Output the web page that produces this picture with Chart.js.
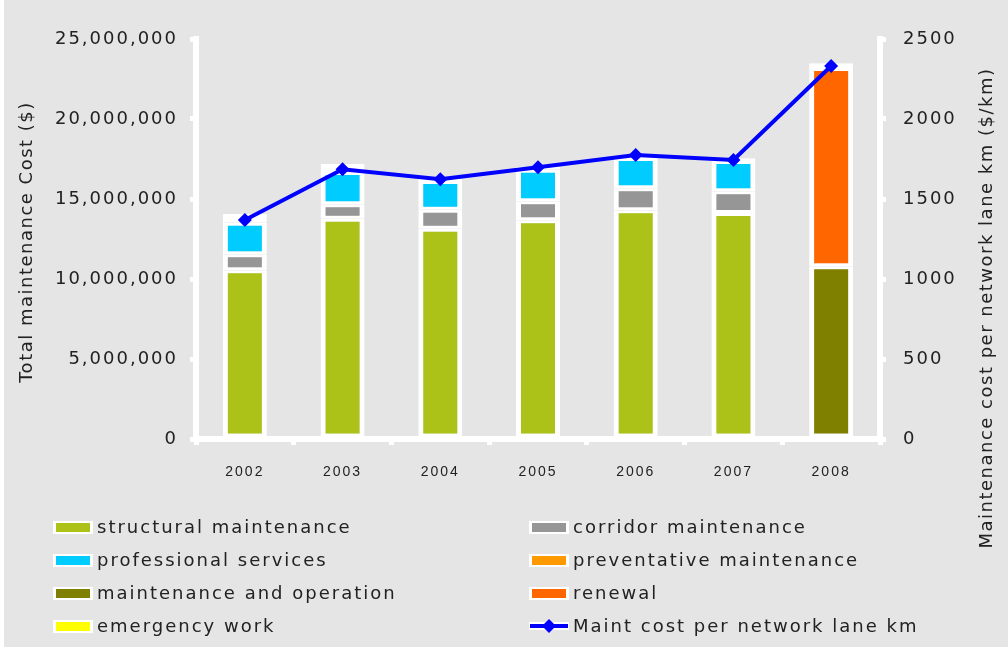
<!DOCTYPE html>
<html><head><meta charset="utf-8">
<script src="https://cdn.jsdelivr.net/npm/chart.js@4.4.1/dist/chart.umd.min.js"></script>
<style>html,body{margin:0;padding:0;background:#fff;}canvas{display:block;}</style>
</head><body>
<canvas id="c" width="1008" height="652"></canvas>
<script>
// ---- data ----
const categories = ['2002','2003','2004','2005','2006','2007','2008'];
const structuralMaintenance = [10540000, 13770000, 13140000, 13670000, 14290000, 14125000, null];
const corridorMaintenance   = [1000000, 900000, 1190000, 1190000, 1380000, 1360000, null];
const professionalServices  = [1980000, 2020000, 1800000, 1970000, 1890000, 1890000, null];
const preventativeMaintenance = [null, null, null, null, null, null, null];
const maintenanceAndOperation = [null, null, null, null, null, null, 10790000];
const renewal               = [null, null, null, null, null, null, 12400000];
const emergencyWork         = [540000, 500000, 130000, 170000, 80000, 170000, 290000];
const costPerLaneKm         = [1369, 1686, 1623, 1698, 1775, 1744, 2331];
const leftTicks = [0, 5000000, 10000000, 15000000, 20000000, 25000000];
const rightTicks = [0, 500, 1000, 1500, 2000, 2500];
const leftTitle = 'Total maintenance Cost ($)';
const rightTitle = 'Maintenance cost per network lane km ($/km)';

const FONT = 'DejaVu Sans';
const SP = '2px';
const TITLE_SP = '1.5px';
const TXT = '#222222';

const barBorder = {top:3, bottom:3, left:5, right:5};
function bar(label, data, color, bw) {
  return { label, data, backgroundColor: color, borderColor: '#ffffff',
    borderWidth: bw || barBorder, borderSkipped: false, inflateAmount: 0, stack: 's', yAxisID: 'y', order: 1,
    barThickness: 44 };
}

const bgPlugin = {
  id: 'bg',
  beforeUpdate(chart){ chart.ctx.letterSpacing = SP; },
  beforeDraw(chart){
    const ctx = chart.ctx;
    ctx.save();
    ctx.fillStyle = '#ffffff'; ctx.fillRect(0,0,chart.width,chart.height);
    ctx.fillStyle = '#E5E5E5'; ctx.fillRect(4,0,chart.width-4,chart.height-5);
    ctx.restore();
    ctx.letterSpacing = SP;
  }
};

const legendPlugin = {
  id: 'customLegend',
  afterDraw(chart){
    const ctx = chart.ctx;
    ctx.save();
    ctx.letterSpacing = SP;
    ctx.font = '18px "' + FONT + '"';
    ctx.textBaseline = 'middle';
    ctx.textAlign = 'left';
    const colX = [53, 529];
    const rowY = [527, 560, 593, 626];
    chart.data.datasets.forEach((ds, i) => {
      const x = colX[i % 2], y = rowY[Math.floor(i / 2)];
      if (ds.type === 'line') {
        ctx.strokeStyle = '#ffffff'; ctx.lineWidth = 8;
        ctx.beginPath(); ctx.moveTo(x, y); ctx.lineTo(x + 40, y); ctx.stroke();
        ctx.strokeStyle = ds.borderColor; ctx.lineWidth = 4;
        ctx.beginPath(); ctx.moveTo(x + 1, y); ctx.lineTo(x + 39, y); ctx.stroke();
        ctx.fillStyle = ds.borderColor;
        ctx.beginPath(); ctx.moveTo(x + 20, y - 7); ctx.lineTo(x + 27, y); ctx.lineTo(x + 20, y + 7); ctx.lineTo(x + 13, y); ctx.closePath(); ctx.fill();
      } else {
        ctx.fillStyle = '#ffffff'; ctx.fillRect(x, y - 6, 40, 13);
        ctx.fillStyle = ds.backgroundColor; ctx.fillRect(x + 3, y - 4, 34, 9);
      }
      ctx.fillStyle = TXT;
      ctx.fillText(ds.label, x + 44, y + 1);
    });
    // axis titles (both read bottom to top)
    ctx.letterSpacing = TITLE_SP;
    ctx.textAlign = 'center';
    ctx.fillStyle = TXT;
    ctx.save();
    ctx.translate(27, 242);
    ctx.rotate(-Math.PI / 2);
    ctx.fillText(leftTitle, 0, 0);
    ctx.restore();
    ctx.save();
    ctx.translate(987, 308);
    ctx.rotate(-Math.PI / 2);
    ctx.fillText(rightTitle, 0, 0);
    ctx.restore();
    ctx.restore();
  }
};

const axisGrid = { drawOnChartArea: false, drawTicks: true, tickLength: 6, color: '#ffffff', lineWidth: 5 };
const axisBorder = { display: true, color: '#ffffff', width: 6 };

new Chart(document.getElementById('c'), {
  type: 'bar',
  data: {
    labels: categories,
    datasets: [
      bar('structural maintenance', structuralMaintenance, '#ACC218'),
      bar('corridor maintenance', corridorMaintenance, '#969696'),
      bar('professional services', professionalServices, '#00CCFF'),
      bar('preventative maintenance', preventativeMaintenance, '#FF9900'),
      bar('maintenance and operation', maintenanceAndOperation, '#808000'),
      bar('renewal', renewal, '#FF6600'),
      bar('emergency work', emergencyWork, '#FFFF00', {top:20, bottom:20, left:5, right:5}),
      { type: 'line', label: 'Maint cost per network lane km', data: costPerLaneKm, yAxisID: 'y1',
        borderColor: '#0000FF', backgroundColor: '#0000FF', borderWidth: 4, tension: 0,
        pointStyle: 'rectRot', pointRadius: 7, pointBorderWidth: 0, pointBackgroundColor: '#0000FF', order: 0 }
    ]
  },
  options: {
    responsive: false,
    animation: false,
    layout: { padding: { top: 39, left: 0, right: 0, bottom: 0 } },
    plugins: { legend: { display: false }, tooltip: { enabled: false } },
    scales: {
      x: {
        stacked: true,
        grid: Object.assign({ offset: true }, axisGrid),
        border: axisBorder,
        ticks: { color: TXT, font: { family: 'Liberation Sans', size: 14 }, padding: 19, maxRotation: 0 },
        afterFit(s){ s.height = 213; }
      },
      y: {
        stacked: true, position: 'left', min: 0, max: 25000000,
        afterBuildTicks(s){ s.ticks = leftTicks.map(v => ({ value: v })); },
        ticks: { color: TXT, font: { family: FONT, size: 18 }, padding: 12,
          callback: v => Number(v).toLocaleString('en-US') },
        grid: axisGrid, border: axisBorder,
        afterFit(s){ s.width = 196; }
      },
      y1: {
        position: 'right', min: 0, max: 2500,
        afterBuildTicks(s){ s.ticks = rightTicks.map(v => ({ value: v })); },
        ticks: { color: TXT, font: { family: FONT, size: 18 }, padding: 17, callback: v => String(v) },
        grid: axisGrid, border: axisBorder,
        afterFit(s){ s.width = 128; }
      }
    }
  },
  plugins: [bgPlugin, legendPlugin]
});
</script>
</body></html>
